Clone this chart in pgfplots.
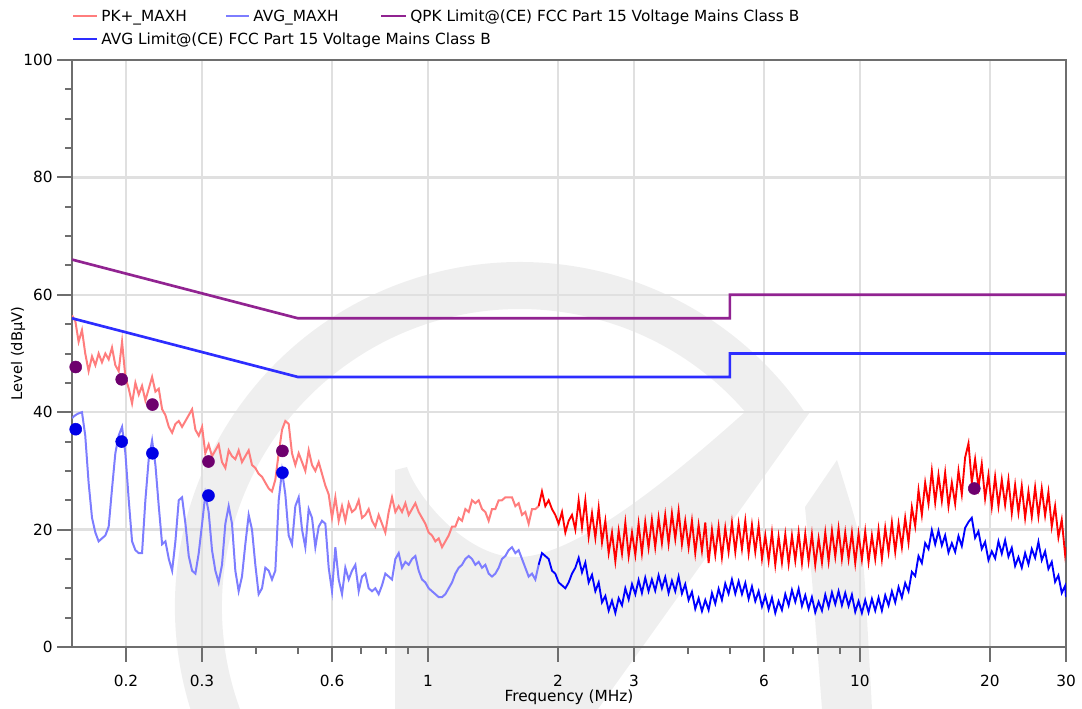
\documentclass[border=0pt]{standalone}
\usepackage{fontspec}
\setmainfont{DejaVu Sans}
\usepackage{pgfplots}
\pgfplotsset{compat=1.18}

\definecolor{pkLight}{RGB}{255,125,125}
\definecolor{pkSat}{RGB}{255,0,0}
\definecolor{avLight}{RGB}{125,125,255}
\definecolor{avSat}{RGB}{0,0,255}
\definecolor{qpkLim}{RGB}{145,35,145}
\definecolor{avgLim}{RGB}{45,45,255}
\definecolor{qpMark}{RGB}{110,0,110}
\definecolor{avMark}{RGB}{0,0,230}
\definecolor{axisgray}{RGB}{110,110,110}
\definecolor{gridgray}{RGB}{224,224,224}
\definecolor{wm}{RGB}{239,239,239}

\newcommand{\lbl}{\fontsize{11.5}{13.8}\selectfont}

\begin{document}
\begin{tikzpicture}
\path[use as bounding box] (0,0) rectangle (811.5pt,-531.75pt);

% watermark and legend, placed in pixel units of the reference
\begin{scope}[x=0.75pt,y=-0.75pt]
\fill[wm] (190.4,709) arc[start angle=162.8,end angle=326,radius=345]
  -- (767,440.4) arc[start angle=326,end angle=160,radius=298] -- cycle;
\fill[wm] (810,412) -- (598,709) -- (395,709) -- (395,470) -- (407,467)
  .. controls (418,500) and (470,560) .. (520,557)
  .. controls (580,555) and (680,470) .. (745,412) -- cycle;
\fill[wm] (837,460) -- (805,507) -- (812,580) -- (822,709) -- (872,709)
  -- (866,600) .. controls (862,540) .. (837,460) -- cycle;

\draw[pkLight, line width=2.2pt] (73,16) -- (97,16);
\node[anchor=base west, inner sep=0, font=\lbl] at (101,21.5) {PK+\_MAXH};
\draw[avLight, line width=2.2pt] (226,16) -- (249,16);
\node[anchor=base west, inner sep=0, font=\lbl] at (253,21.5) {AVG\_MAXH};
\draw[qpkLim, line width=2.2pt] (381,16) -- (406,16);
\node[anchor=base west, inner sep=0, font=\lbl] at (410,21.5) {QPK Limit@(CE) FCC Part 15 Voltage Mains Class B};
\draw[avgLim, line width=2.2pt] (73,39) -- (97,39);
\node[anchor=base west, inner sep=0, font=\lbl] at (101,44.5) {AVG Limit@(CE) FCC Part 15 Voltage Mains Class B};
\end{scope}

\begin{axis}[
  at={(54pt,-485.25pt)}, anchor=south west,
  scale only axis, width=745.5pt, height=440.25pt,
  xmode=log, xmin=0.15, xmax=30, ymin=0, ymax=100,
  xtick={0.2,0.3,0.6,1,2,3,6,10,20,30},
  xticklabels={0.2,0.3,0.6,1,2,3,6,10,20,30},
  minor xtick={0.4,0.5,0.7,0.8,0.9,4,5,7,8,9},
  ytick={0,20,40,60,80,100},
  minor ytick={5,10,...,95},
  xtick pos=bottom, ytick pos=left,
  tick align=outside,
  major tick length=11pt, minor tick length=5pt,
  tick style={draw=axisgray, line width=1.5pt},
  axis line style={draw=axisgray, line width=1.5pt},
  grid=major, major grid style={draw=gridgray, line width=1.8pt},
  /pgf/number format/assume math mode=true,
  tick label style={font=\lbl},
  xticklabel style={yshift=-6.5pt},
  xlabel={Frequency (MHz)}, ylabel={Level (dBµV)},
  x label style={at={(axis description cs:0.5,-0.0852)}, anchor=center, font=\lbl},
  y label style={at={(axis description cs:-0.0543,0.5)}, anchor=center, font=\fontsize{11}{13}\selectfont},
]
% PK+_MAXH, lower band
\addplot[pkLight, line width=1.5pt] coordinates {
(0.1500,56.5)(0.1527,55.5)(0.1554,52)(0.1582,54)(0.1610,50)(0.1639,47)(0.1669,49.5)(0.1699,48)
(0.1729,50)(0.1760,48.5)(0.1792,50)(0.1824,49)(0.1857,51)(0.1890,48)(0.1924,47)(0.1959,52)
(0.1994,46)(0.2030,44)(0.2066,41.5)(0.2103,45)(0.2141,43)(0.2179,44.5)(0.2218,42)(0.2258,44)
(0.2299,46)(0.2340,43.5)(0.2382,44)(0.2425,40.5)(0.2468,39.5)(0.2513,37.5)(0.2558,36.5)(0.2603,38)
(0.2650,38.5)(0.2697,37.5)(0.2746,38.5)(0.2795,39.5)(0.2845,40.5)(0.2896,37)(0.2948,36)(0.3001,37.5)
(0.3053,33)(0.3108,34.5)(0.3164,32.5)(0.3221,33.5)(0.3278,34.5)(0.3337,31.5)(0.3397,30.5)(0.3458,33.5)
(0.3520,32.5)(0.3583,32)(0.3647,33.5)(0.3712,31.5)(0.3779,32.5)(0.3847,33.5)(0.3916,31)(0.3986,30.5)
(0.4057,29.5)(0.4130,29)(0.4204,28)(0.4280,27)(0.4356,26.5)(0.4434,28.5)(0.4514,33)(0.4595,37)
(0.4677,38.5)(0.4761,38)(0.4846,33)(0.4933,31)(0.5022,33)(0.5112,31.5)(0.5203,30)(0.5297,33.5)
(0.5392,31)(0.5488,30)(0.5587,31.5)(0.5687,29.5)(0.5789,27.5)(0.5893,26)(0.5998,22)(0.6106,25.5)
(0.6215,21.5)(0.6327,24)(0.6440,21.5)(0.6556,24.5)(0.6673,23)(0.6793,23.5)(0.6915,25)(0.7039,22)
(0.7165,22.5)(0.7293,23.5)(0.7424,21.5)(0.7557,20.5)(0.7693,22.5)(0.7831,21)(0.7971,19.5)(0.8114,23)
(0.8259,25.5)(0.8407,23)(0.8558,24)(0.8711,23)(0.8868,24.5)(0.9027,22.5)(0.9188,23.5)(0.9353,24.5)
(0.9521,23)(0.9691,22)(0.9865,21)(1.0042,19.5)(1.0222,19)(1.0405,18)(1.0592,18.5)(1.0782,17)
(1.0975,18)(1.1171,19)(1.1372,20.5)(1.1575,20.5)(1.1783,22)(1.1994,21.5)(1.2209,23.5)(1.2428,23)
(1.2650,25)(1.2877,24.5)(1.3108,25)(1.3343,23.5)(1.3582,23)(1.3825,21.5)(1.4073,23.5)(1.4325,23.5)
(1.4582,25)(1.4843,25)(1.5110,25.5)(1.5381,25.5)(1.5656,25.5)(1.5937,24)(1.6222,24.5)(1.6513,22.5)
(1.6809,23)(1.7110,21)(1.7417,23.5)(1.7729,23.5)(1.8047,24)
};
% AVG_MAXH, lower band
\addplot[avLight, line width=1.5pt] coordinates {
(0.1500,39)(0.1527,39.5)(0.1554,39.8)(0.1582,40)(0.1610,36)(0.1639,28)(0.1669,22)(0.1699,19.5)
(0.1729,18)(0.1760,18.5)(0.1792,19)(0.1824,20.5)(0.1857,27)(0.1890,33)(0.1924,36)(0.1959,37.5)
(0.1994,33)(0.2030,25)(0.2066,18)(0.2103,16.5)(0.2141,16)(0.2179,16)(0.2218,25)(0.2258,32)
(0.2299,35.2)(0.2340,31)(0.2382,24)(0.2425,17.5)(0.2468,18)(0.2513,15)(0.2558,13)(0.2603,18)
(0.2650,25)(0.2697,25.5)(0.2746,21)(0.2795,15.5)(0.2845,13)(0.2896,12.5)(0.2948,16)(0.3001,21)
(0.3053,26)(0.3108,23)(0.3164,16.5)(0.3221,13)(0.3278,11)(0.3337,14)(0.3397,21)(0.3458,24)
(0.3520,21)(0.3583,13)(0.3647,9.5)(0.3712,12)(0.3779,17.5)(0.3847,22.5)(0.3916,20)(0.3986,14)
(0.4057,9)(0.4130,10)(0.4204,13.5)(0.4280,13)(0.4356,11.5)(0.4434,13)(0.4514,25)(0.4595,30)
(0.4677,26)(0.4761,19)(0.4846,17.5)(0.4933,24)(0.5022,25.5)(0.5112,20)(0.5203,17)(0.5297,23.5)
(0.5392,22)(0.5488,17)(0.5587,20.5)(0.5687,21.5)(0.5789,21)(0.5893,13.5)(0.5998,9.5)(0.6106,17)
(0.6215,11.5)(0.6327,9)(0.6440,13.5)(0.6556,11.5)(0.6673,13)(0.6793,14)(0.6915,9.5)(0.7039,12)
(0.7165,12.5)(0.7293,10)(0.7424,9.5)(0.7557,10)(0.7693,9)(0.7831,10.5)(0.7971,12.5)(0.8114,12)
(0.8259,11.5)(0.8407,15)(0.8558,16)(0.8711,13.5)(0.8868,14.5)(0.9027,14)(0.9188,15)(0.9353,15.5)
(0.9521,13)(0.9691,11.5)(0.9865,11)(1.0042,10)(1.0222,9.5)(1.0405,9)(1.0592,8.5)(1.0782,8.5)
(1.0975,9)(1.1171,10)(1.1372,11)(1.1575,12.5)(1.1783,13.5)(1.1994,14)(1.2209,15)(1.2428,15.5)
(1.2650,15)(1.2877,14)(1.3108,14.5)(1.3343,13.5)(1.3582,14)(1.3825,12.5)(1.4073,12)(1.4325,12.5)
(1.4582,13.5)(1.4843,15)(1.5110,15.5)(1.5381,16.5)(1.5656,17)(1.5937,16)(1.6222,16.5)(1.6513,15)
(1.6809,13.5)(1.7110,12)(1.7417,12.5)(1.7729,11.5)(1.8047,14)
};
% PK+_MAXH, upper band (dense trace)
\addplot[pkSat, line width=1.4pt] coordinates {
(1.8047,24)(1.8370,26.5)(1.8700,24)(1.9035,25)(1.9376,23.5)(1.9723,22.5)(2.0077,21)(2.0437,23)
(2.0803,19.5)(2.1176,21.5)(2.1555,22.5)(2.1942,20)
(2.2335,25)(2.2735,20.4)(2.3143,25)(2.3558,18.8)(2.3981,22.8)(2.4411,18.6)(2.4848,23.7)(2.5294,17.8)
(2.5747,21.5)(2.6209,16)(2.6678,19.5)(2.7156,14.6)(2.7643,19.8)(2.8139,15.9)(2.8643,21.2)(2.9157,15.5)
(2.9679,19.5)(3.0211,15.7)(3.074,21)(3.129,16)(3.185,21.3)(3.242,16.9)(3.300,21.7)(3.359,17)
(3.420,22)(3.481,17.7)(3.543,22.5)(3.607,17.6)(3.672,22.8)(3.738,18.4)(3.805,23.2)(3.873,17.5)
(3.942,21.5)(4.013,17)(4.085,21.5)(4.158,16)(4.233,20.8)(4.309,16.4)(4.386,21.2)(4.465,14.3)
(4.545,20)(4.626,15.7)(4.709,20.5)(4.793,15.3)(4.879,20.3)(4.966,16.2)(5.056,21.2)(5.147,16.2)
(5.239,21)(5.333,16.7)(5.429,21.5)(5.526,16)(5.625,20.8)(5.726,16.2)(5.829,20.7)(5.934,15)
(6.040,19)(6.148,14.7)(6.258,19.5)(6.370,14)(6.484,18.8)(6.600,14.4)(6.719,19.2)(6.839,14.2)
(6.962,19)(7.087,14.7)(7.214,19.5)(7.343,14.3)(7.474,19.3)(7.608,14.6)(7.744,19.2)(7.883,14)
(8.025,18.5)(8.169,14.4)(8.315,19.5)(8.464,14.6)(8.616,19.8)(8.770,15.4)(8.925,20.2)(9.085,15)
(9.248,19.5)(9.414,15)(9.583,19.5)(9.755,14.3)(9.929,19.3)(10.107,14.9)(10.288,19.7)(10.472,14.5)
(10.660,19)(10.851,15)(11.045,20)(11.243,15)(11.445,20.3)(11.650,16.2)(11.859,21.2)(12.072,16.2)
(12.288,21)(12.508,17)(12.730,22)(12.958,17.8)(13.191,23.8)(13.428,20.6)(13.668,26.7)(13.913,22.5)
(14.162,28)(14.416,24.4)(14.675,30)(14.938,24.6)(15.204,29.3)(15.477,24.9)(15.754,29.7)(16.036,24)
(16.324,28)(16.617,24.4)(16.914,30)(17.217,26)(17.526,32.3)(17.84,34.7)(18.157,28)(18.483,32)
(18.814,27.2)(19.151,31.2)(19.494,25.3)(19.844,29.3)(20.199,23.9)(20.561,29)(20.930,24)(21.305,28.5)
(21.685,24.2)(22.074,28.5)(22.470,22.8)(22.873,27.6)(23.282,22.9)(23.699,27.4)(24.124,22)(24.557,26.5)
(24.997,22.2)(25.445,27.2)(25.898,22.3)(26.362,27)(26.835,22.4)(27.316,26.4)(27.806,20.5)(28.305,24)
(28.811,18.7)(29.328,21.7)(29.853,15.8)(30,17)
};
% AVG_MAXH, upper band (dense trace)
\addplot[avSat, line width=1.4pt] coordinates {
(1.8047,14)(1.8370,16)(1.8700,15.5)(1.9035,15)(1.9376,13)(1.9723,12.5)(2.0077,11)(2.0437,10.5)
(2.0803,10)(2.1176,11)(2.1555,12.5)(2.1942,13.5)
(2.2335,15.2)(2.2735,12.7)(2.3143,14.4)(2.3558,11)(2.3981,12.3)(2.4411,9.5)(2.4848,11)(2.5294,7.6)
(2.5747,8.7)(2.6209,6.2)(2.6678,7.9)(2.7156,5.8)(2.7643,8.3)(2.8139,7.1)(2.8643,10)(2.9157,8.1)
(2.9679,10.7)(3.0211,9)(3.074,11.4)(3.129,9.2)(3.185,11.8)(3.242,9.5)(3.300,11.5)(3.359,9.6)
(3.420,12.2)(3.481,10)(3.543,11.9)(3.607,9.2)(3.672,11.3)(3.738,9.5)(3.805,12)(3.873,9.1)
(3.942,10.7)(4.013,8)(4.085,9.4)(4.158,6.5)(4.233,8.3)(4.309,6.1)(4.386,8)(4.465,6.3)
(4.545,9.2)(4.626,7.4)(4.709,9.9)(4.793,8)(4.879,10.8)(4.966,9.1)(5.056,11.5)(5.147,9.1)
(5.239,11.2)(5.333,9)(5.429,10.9)(5.526,8.2)(5.625,10.3)(5.726,7.8)(5.829,9.5)(5.934,6.9)
(6.040,8.7)(6.148,6.4)(6.258,8.4)(6.370,5.8)(6.484,7.8)(6.600,6.3)(6.719,9)(6.839,7.1)
(6.962,9.7)(7.087,7.7)(7.214,9.9)(7.343,7)(7.474,8.8)(7.608,6.5)(7.744,8.5)(7.883,5.9)
(8.025,7.7)(8.169,6.2)(8.315,8.9)(8.464,6.8)(8.616,9.3)(8.770,7.3)(8.925,9.5)(9.085,7.1)
(9.248,9.2)(9.414,7)(9.583,8.9)(9.755,6)(9.929,7.8)(10.107,5.8)(10.288,8)(10.472,5.9)
(10.660,8.2)(10.851,6.2)(11.045,8.4)(11.243,6.2)(11.445,8.8)(11.650,7.1)(11.859,9.5)(12.072,7.6)
(12.288,10.2)(12.508,8.4)(12.730,10.9)(12.958,9.5)(13.191,12.8)(13.428,12.1)(13.668,15.5)(13.913,14.3)
(14.162,17.7)(14.416,16.7)(14.675,19.9)(14.938,17.5)(15.204,19.8)(15.477,17.3)(15.754,19)(16.036,16.1)
(16.324,17.7)(16.617,16.2)(16.914,18.9)(17.217,17.2)(17.526,20.3)(17.84,21.3)(18.157,22)(18.483,18.6)
(18.814,19.7)(19.151,16.7)(19.494,17.9)(19.844,14.8)(20.199,16.3)(20.561,15.1)(20.930,18)(21.305,15.9)
(21.685,18.2)(22.074,15.4)(22.470,16.9)(22.873,13.8)(23.282,15.3)(23.699,13.5)(24.124,16)(24.557,14.1)
(24.997,16.7)(25.445,15.2)(25.898,17.9)(26.362,14.8)(26.835,16.3)(27.316,13.3)(27.806,14.5)(28.305,11.1)
(28.811,12.2)(29.328,9.2)(29.853,10.4)(30,8.5)
};
% QPK limit
\addplot[qpkLim, line width=2pt] coordinates {(0.15,66)(0.5,56)(5,56)(5,60)(30,60)};
% AVG limit
\addplot[avgLim, line width=2pt] coordinates {(0.15,56)(0.5,46)(5,46)(5,50)(30,50)};
% QP final measurements
\addplot[only marks, mark=*, mark size=4.5pt, qpMark] coordinates {
(0.153,47.7)(0.1955,45.6)(0.2303,41.3)(0.3105,31.6)(0.4605,33.4)(18.4,27.0)};
% AV final measurements
\addplot[only marks, mark=*, mark size=4.5pt, avMark] coordinates {
(0.153,37.1)(0.1955,35.0)(0.2303,33.0)(0.3105,25.8)(0.4605,29.7)};
\end{axis}
\end{tikzpicture}
\end{document}
